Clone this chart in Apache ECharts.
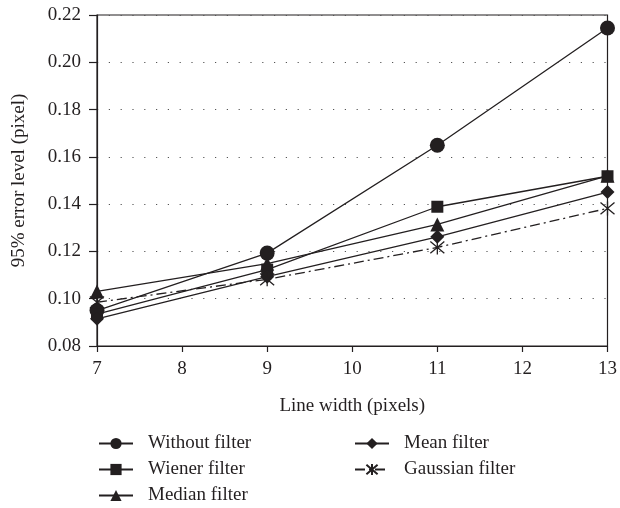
<!DOCTYPE html>
<html>
<head>
<meta charset="utf-8">
<script src="https://cdn.jsdelivr.net/npm/echarts@6/dist/echarts.min.js"></script>
<style>html,body{margin:0;padding:0;background:#fff}#c{width:620px;height:508px}</style>
</head>
<body>
<div id="c"></div>
<script>
const xValues = [7, 9, 11, 13];
const xTicks = [7, 8, 9, 10, 11, 12, 13];
const yTicks = [0.08, 0.10, 0.12, 0.14, 0.16, 0.18, 0.20, 0.22];
const withoutFilter = [0.095, 0.1193, 0.1649, 0.2145];
const wienerFilter = [0.0935, 0.1123, 0.1389, 0.1518];
const medianFilter = [0.1031, 0.1148, 0.1314, 0.152];
const meanFilter = [0.0915, 0.1093, 0.1262, 0.1451];
const gaussianFilter = [0.0985, 0.1082, 0.1217, 0.1382];
const seriesNames = ['Without filter', 'Wiener filter', 'Median filter', 'Mean filter', 'Gaussian filter'];

const FONT = 'Liberation Serif';
const FS = 19;
const INK = '#231f20';
const star = 'path://M0,0L10,10M10,0L0,10M5,-1L5,11';

function mk(name, vals, symbol, size, dashed) {
  return {
    name: name,
    type: 'line',
    data: xValues.map((x, i) => [x, vals[i]]),
    symbol: symbol,
    symbolSize: size,
    showAllSymbol: true,
    lineStyle: { color: INK, width: 1.3, type: dashed ? [10, 4, 2, 4] : 'solid' },
    itemStyle: symbol === star
      ? { color: 'none', borderColor: INK, borderWidth: 1.3 }
      : { color: INK, borderWidth: 0 },
    emphasis: { disabled: true },
    animation: false
  };
}

const legendCommon = {
  orient: 'vertical', top: 434, height: 90, padding: 0,
  itemWidth: 34, itemHeight: 14, itemGap: 7,
  textStyle: { fontFamily: FONT, fontSize: FS, color: INK, padding: [0, 0, 0, 10] }
};

const chart = echarts.init(document.getElementById('c'), null, { renderer: 'canvas' });
chart.setOption({
  animation: false,
  grid: { left: 97, right: 8, top: 15, bottom: 162, show: true, borderColor: INK, borderWidth: 1.2 },
  xAxis: {
    type: 'value', min: xTicks[0], max: xTicks[xTicks.length - 1], interval: 1,
    name: 'Line width (pixels)', nameLocation: 'middle', nameGap: 51,
    nameTextStyle: { fontFamily: FONT, fontSize: FS, color: INK },
    axisLine: { lineStyle: { color: INK, width: 1.2 } },
    axisTick: { show: true, length: 6, inside: false, lineStyle: { color: INK, width: 1.2 } },
    axisLabel: { fontFamily: FONT, fontSize: FS, color: INK, margin: 14 },
    splitLine: { show: false }
  },
  yAxis: {
    type: 'value', min: yTicks[0], max: yTicks[yTicks.length - 1], interval: 0.02,
    name: '95% error level (pixel)', nameLocation: 'middle', nameGap: 68,
    nameTextStyle: { fontFamily: FONT, fontSize: FS, color: INK },
    axisLine: { lineStyle: { color: INK, width: 1.2 } },
    axisTick: { show: true, length: 8, inside: false, lineStyle: { color: INK, width: 1.2 } },
    axisLabel: { fontFamily: FONT, fontSize: FS, color: INK, margin: 16, formatter: v => v.toFixed(2) },
    splitLine: { show: true, lineStyle: { color: '#555', width: 1.2, type: [1.2, 10.6] } }
  },
  legend: [
    Object.assign({}, legendCommon, { data: seriesNames.slice(0, 3), left: 98 }),
    Object.assign({}, legendCommon, { data: seriesNames.slice(3), left: 354 })
  ],
  series: [
    mk(seriesNames[0], withoutFilter, 'circle', 15, false),
    mk(seriesNames[1], wienerFilter, 'rect', 12, false),
    mk(seriesNames[2], medianFilter, 'triangle', 14, false),
    mk(seriesNames[3], meanFilter, 'diamond', 14, false),
    mk(seriesNames[4], gaussianFilter, star, 14, true)
  ]
});
</script>
</body>
</html>
